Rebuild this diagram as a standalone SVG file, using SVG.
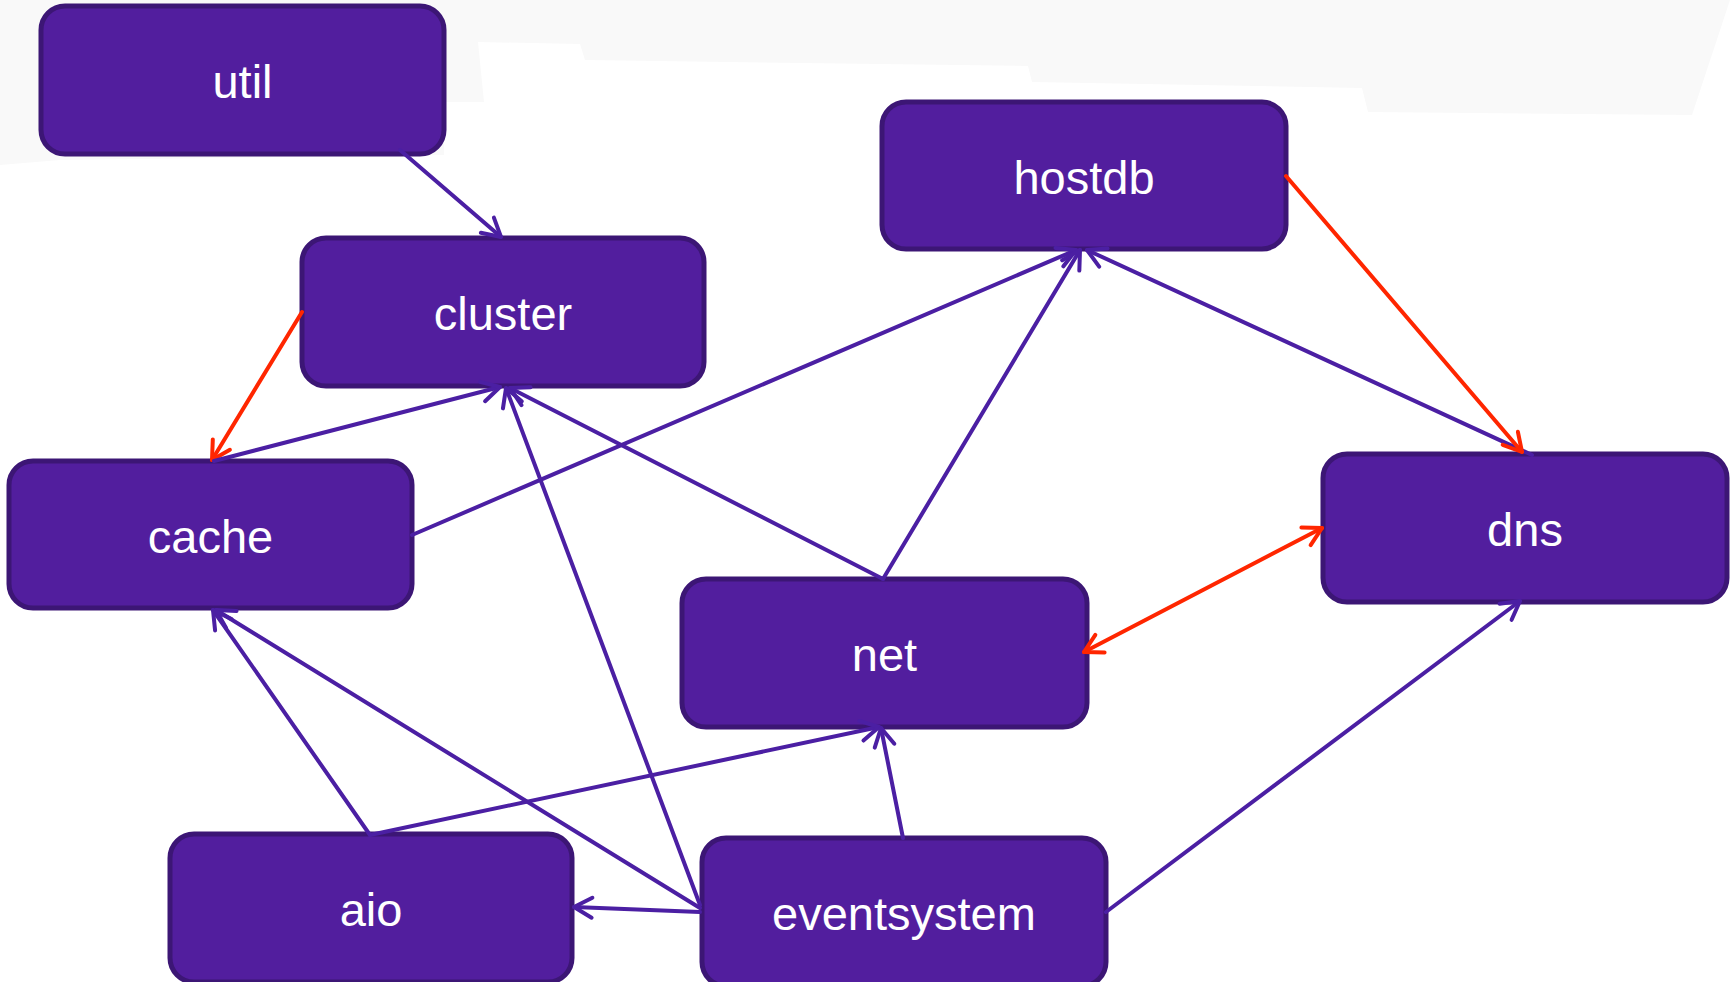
<svg xmlns="http://www.w3.org/2000/svg" width="1730" height="982" viewBox="0 0 1730 982">
<style>
.box{fill:#521e9e;stroke:#3c1675;stroke-width:5}
.lbl{fill:#ffffff;font-family:"Liberation Sans",Arial,sans-serif;font-size:47px;text-anchor:middle}
.e{fill:none;stroke:#4b1fa3;stroke-width:4;stroke-linecap:round}
.r{fill:none;stroke:#ff2600;stroke-width:4;stroke-linecap:round}
</style>
<defs>
<marker id="ap" viewBox="-22 -13 26 26" refX="0" refY="0" markerWidth="26" markerHeight="26" markerUnits="userSpaceOnUse" orient="auto-start-reverse" overflow="visible">
<path d="M-18,-10 L0,0 L-18,10" fill="none" stroke="#4b1fa3" stroke-width="4" stroke-linecap="round" stroke-linejoin="round"/>
</marker>
<marker id="ar" viewBox="-22 -13 26 26" refX="0" refY="0" markerWidth="26" markerHeight="26" markerUnits="userSpaceOnUse" orient="auto-start-reverse" overflow="visible">
<path d="M-18,-10 L0,0 L-18,10" fill="none" stroke="#ff2600" stroke-width="4" stroke-linecap="round" stroke-linejoin="round"/>
</marker>
</defs>
<rect width="1730" height="982" fill="#ffffff"/>
<polygon points="0,0 1730,0 1692,115 1368,112 1362,88 1032,82 1028,66 585,60 580,44 478,42 484,102 444,102 444,155 60,160 0,165" fill="#f9f9f9"/>
<g id="node-util"><rect class="box" x="41" y="6" width="403" height="148" rx="24"/><text class="lbl" x="242.5" y="98">util</text></g>
<g id="node-cluster"><rect class="box" x="302" y="238" width="402" height="148" rx="24"/><text class="lbl" x="503" y="330">cluster</text></g>
<g id="node-hostdb"><rect class="box" x="882" y="102" width="404" height="147" rx="24"/><text class="lbl" x="1084" y="194">hostdb</text></g>
<g id="node-dns"><rect class="box" x="1323" y="454" width="404" height="148" rx="24"/><text class="lbl" x="1525" y="546">dns</text></g>
<g id="node-cache"><rect class="box" x="9" y="461" width="403" height="147" rx="24"/><text class="lbl" x="210.5" y="553">cache</text></g>
<g id="node-net"><rect class="box" x="682" y="579" width="405" height="148" rx="24"/><text class="lbl" x="884.5" y="671">net</text></g>
<g id="node-aio"><rect class="box" x="170" y="834" width="402" height="148" rx="24"/><text class="lbl" x="371" y="926">aio</text></g>
<g id="node-eventsystem"><rect class="box" x="702" y="838" width="404" height="148" rx="24"/><text class="lbl" x="904" y="930">eventsystem</text></g>
<g id="connectors">
<line class="e" x1="400" y1="150" x2="501" y2="237" marker-end="url(#ap)"/>
<line class="r" x1="302" y1="312" x2="212" y2="460" marker-end="url(#ar)"/>
<line class="e" x1="214" y1="461" x2="500" y2="387" marker-end="url(#ap)"/>
<line class="e" x1="412" y1="535" x2="1076" y2="250" marker-end="url(#ap)"/>
<line class="e" x1="883" y1="579" x2="1080" y2="250" marker-end="url(#ap)"/>
<line class="e" x1="1532" y1="455" x2="1087" y2="250" marker-end="url(#ap)"/>
<line class="r" x1="1286" y1="176" x2="1522" y2="452" marker-end="url(#ar)"/>
<line class="e" x1="883" y1="579" x2="510" y2="388" marker-end="url(#ap)"/>
<line class="e" x1="700" y1="905" x2="506" y2="388" marker-end="url(#ap)"/>
<line class="e" x1="700" y1="908" x2="216" y2="610" marker-end="url(#ap)"/>
<line class="e" x1="370" y1="835" x2="213" y2="610" marker-end="url(#ap)"/>
<line class="e" x1="370" y1="835" x2="879" y2="727" marker-end="url(#ap)"/>
<line class="e" x1="700" y1="912" x2="574" y2="907" marker-end="url(#ap)"/>
<line class="e" x1="903" y1="838" x2="881" y2="728" marker-end="url(#ap)"/>
<line class="e" x1="1106" y1="912" x2="1520" y2="601" marker-end="url(#ap)"/>
<line class="r" x1="1084" y1="652" x2="1322" y2="528" marker-start="url(#ar)" marker-end="url(#ar)"/>
</g>
</svg>
